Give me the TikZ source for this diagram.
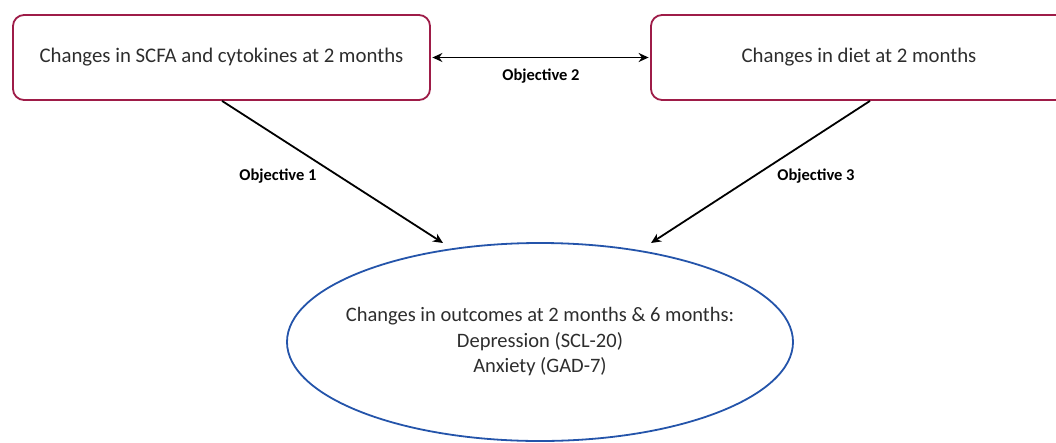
\documentclass[tikz,border=0pt]{standalone}
\usepackage{fontspec}
\setmainfont{Carlito}
\usetikzlibrary{arrows.meta,shapes.geometric}
\definecolor{boxred}{RGB}{158,28,72}
\definecolor{ellblue}{RGB}{36,84,170}
\definecolor{txt}{RGB}{45,45,45}
\tikzset{
  boxnode/.style={draw=boxred,line width=1.8pt,rounded corners=11pt,minimum height=85pt,text=txt,font=\fontsize{20.8}{24}\selectfont,inner sep=0pt},
  ellnode/.style={draw=ellblue,line width=1.8pt,ellipse,minimum width=506pt,minimum height=198pt,text=txt,font=\fontsize{20.5}{25.5}\selectfont,align=center,inner xsep=-25pt,inner ysep=0pt},
  conn/.style={draw=black,line width=1.8pt,-{Stealth[length=10pt,width=9pt]}},
  biconn/.style={draw=black,line width=1.8pt,{Stealth[length=10pt,width=9pt]}-{Stealth[length=10pt,width=9pt]}},
  objlabel/.style={font=\bfseries\fontsize{16.5}{18}\selectfont,text=black,inner sep=0pt}
}
\begin{document}
\begin{tikzpicture}[x=1pt,y=-1pt]
\useasboundingbox (0,0) rectangle (1056,442);
\clip (0,0) rectangle (1056,442);
\node[boxnode,minimum width=417pt] (L) at (221.5,57.5) {Changes in SCFA and cytokines at 2 months};
\node[boxnode,minimum width=416pt] (R) at (859,57.5) {Changes in diet at 2 months};
\node[ellnode] (E) at (540,342) {Changes in outcomes at 2 months \& 6 months:\\Depression (SCL-20)\\Anxiety (GAD-7)};
\coordinate (e1) at (443,243);
\coordinate (e3) at (651,243);
\draw[biconn] ([xshift=1.5pt]L.east) -- ([xshift=-1.5pt]R.west);
\draw[conn] ([xshift=0.5pt]L.south) -- (e1);
\draw[conn] ([xshift=11pt]R.south) -- (e3);
\node[objlabel] (o2) at (541,76) {Objective 2};
\node[objlabel] (o1) at (278,176) {Objective 1};
\node[objlabel] (o3) at (816,176) {Objective 3};
\end{tikzpicture}
\end{document}
